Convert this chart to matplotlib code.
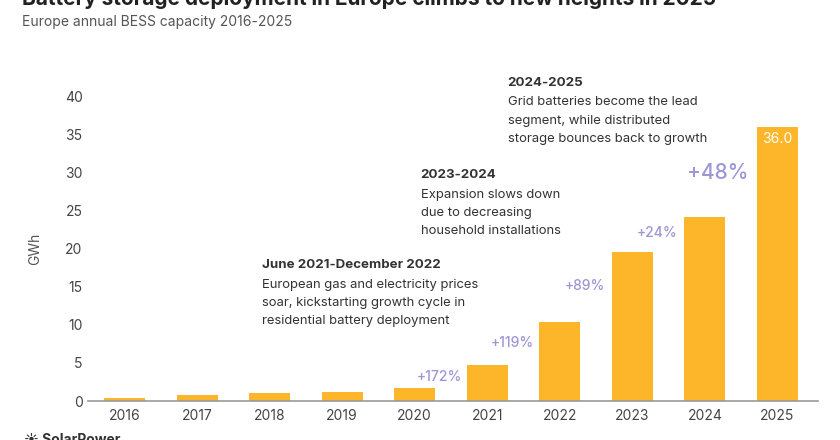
import matplotlib.pyplot as plt

plt.rcParams['font.family'] = ['Inter', 'DejaVu Sans']

# data
years = ["2016", "2017", "2018", "2019", "2020", "2021", "2022", "2023", "2024", "2025"]
gwh = [0.45, 0.75, 1.0, 1.15, 1.75, 4.7, 10.3, 19.5, 24.1, 36.0]
growth = ["", "", "", "", "", "+172%", "+119%", "+89%", "+24%", "+48%"]

# label heights for the growth texts (GWh)
growth_y = [0, 0, 0, 0, 0, 3.1, 7.6, 15.1, 22.0, 29.9]

bar_col = "#FDB52A"
pct_col = "#9D97D8"
txt_col = "#333333"

fig = plt.figure(figsize=(8.4, 4.4), dpi=100)
ax = fig.add_axes([0.105, 0.0886, 0.869, 0.6932])

x = range(len(years))
ax.bar(x, gwh, width=0.565, color=bar_col, zorder=2)
ax.set_xlim(-0.5, 9.56)
ax.set_ylim(0, 40)
ax.set_yticks(range(0, 41, 5))
ax.set_xticks(list(x))
ax.set_xticklabels(years)
ax.tick_params(length=0, labelsize=10, colors="#444444", pad=6)
ax.tick_params(axis="y", pad=4)
for s in ["top", "right", "left"]:
    ax.spines[s].set_visible(False)
ax.spines["bottom"].set_color("#999999")
ax.spines["bottom"].set_linewidth(1.2)
ax.set_ylabel("GWh", fontsize=10, color="#555555", labelpad=16)

# growth labels, left of each bar
for i, g in enumerate(growth):
    if not g:
        continue
    big = i == 9
    ax.text(i - (0.82 if big else 0.66), growth_y[i], g,
            ha="center", va="center", color=pct_col,
            fontsize=15 if big else 10, fontweight="medium")

ax.text(9, gwh[9] - 1.7, f"{gwh[9]:.1f}", ha="center", va="center",
        color="white", fontsize=10)

# annotations
notes = [
    (1.89, 17.8, "June 2021-December 2022",
     "European gas and electricity prices\nsoar, kickstarting growth cycle in\nresidential battery deployment"),
    (4.08, 29.6, "2023-2024",
     "Expansion slows down\ndue to decreasing\nhousehold installations"),
    (5.28, 41.7, "2024-2025",
     "Grid batteries become the lead\nsegment, while distributed\nstorage bounces back to growth"),
]
for nx, ny, head, body in notes:
    ax.text(nx, ny, head, ha="left", va="center", fontsize=9.6,
            fontweight="bold", color=txt_col, clip_on=False)
    ax.text(nx, ny - 1.75, body, ha="left", va="top", fontsize=9.4,
            color=txt_col, linespacing=1.68, clip_on=False)

# title block (top clipped like the source)
fig.text(0.026, 1.003, "Battery storage deployment in Europe climbs to new heights in 2025",
         fontsize=15, fontweight="bold", color="#222222", va="center", ha="left")
fig.text(0.026, 0.95, "Europe annual BESS capacity 2016-2025",
         fontsize=10, color="#555555", va="center", ha="left")
fig.text(0.028, 0.0, "\u2600 SolarPower", fontsize=10, fontweight="bold",
         color="#333333", va="center", ha="left")

fig.savefig("out.png", dpi=100)
